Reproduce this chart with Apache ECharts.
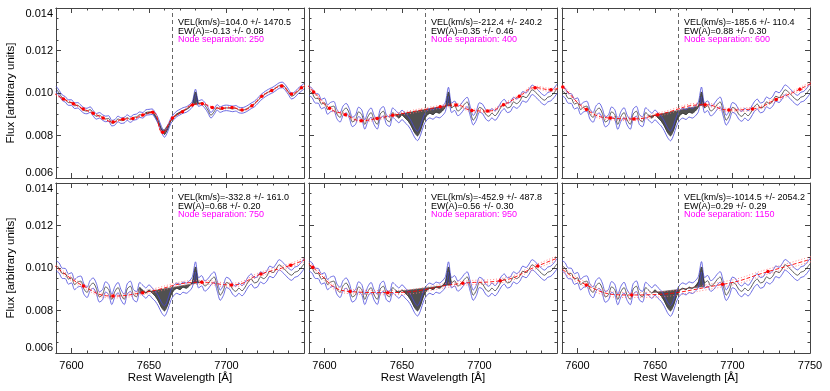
<!DOCTYPE html>
<html>
<head>
<meta charset="utf-8">
<script src="https://cdn.jsdelivr.net/npm/echarts@6/dist/echarts.min.js"></script>
<style>
  html, body { margin: 0; padding: 0; background: #fff; }
  #chart { width: 830px; height: 391px; }
</style>
</head>
<body>
<div id="chart"></div>
<script>
  // wavelength grid of the spectrum (Angstrom)
  var wave = [
    7590, 7592, 7594, 7596, 7598, 7600, 7602, 7604, 7606, 7608,
    7610, 7612, 7614, 7616, 7618, 7620, 7622, 7624, 7626, 7628,
    7630, 7632, 7634, 7636, 7638, 7640, 7642, 7644, 7646, 7648,
    7650, 7652, 7654, 7656, 7658, 7660, 7662, 7664, 7666, 7668,
    7670, 7672, 7674, 7676, 7678, 7680, 7682, 7684, 7686, 7688,
    7690, 7692, 7694, 7696, 7698, 7700, 7702, 7704, 7706, 7708,
    7710, 7712, 7714, 7716, 7718, 7720, 7722, 7724, 7726, 7728,
    7730, 7732, 7734, 7736, 7738, 7740, 7742, 7744, 7746, 7748,
    7750
  ];

  // spectrum as drawn in the first panel (node separation 250)
  var fluxP1 = [
    0.01020, 0.01000, 0.00978, 0.00970, 0.00955, 0.00955, 0.00940, 0.00942, 0.00930, 0.00918,
    0.00915, 0.00922, 0.00905, 0.00890, 0.00895, 0.00885, 0.00878, 0.00880, 0.00858, 0.00862,
    0.00878, 0.00870, 0.00872, 0.00884, 0.00875, 0.00885, 0.00888, 0.00898, 0.00895, 0.00908,
    0.00910, 0.00912, 0.00895, 0.00868, 0.00830, 0.00805, 0.00830, 0.00868, 0.00888, 0.00902,
    0.00910, 0.00918, 0.00922, 0.00932, 0.00948, 0.01005, 0.00950, 0.00955, 0.00942, 0.00920,
    0.00895, 0.00912, 0.00932, 0.00922, 0.00928, 0.00930, 0.00928, 0.00925, 0.00928, 0.00920,
    0.00918, 0.00922, 0.00930, 0.00940, 0.00948, 0.00962, 0.00978, 0.00990, 0.01000, 0.01008,
    0.01015, 0.01025, 0.01035, 0.01038, 0.01025, 0.01005, 0.00985, 0.00992, 0.01008, 0.01020,
    0.01032
  ];

  // spectrum as drawn in the other panels
  var fluxMain = [
    0.01010, 0.01000, 0.00975, 0.00974, 0.00948, 0.00954, 0.00922, 0.00934, 0.00938, 0.00901,
    0.00885, 0.00917, 0.00929, 0.00904, 0.00864, 0.00874, 0.00911, 0.00899, 0.00852, 0.00889,
    0.00908, 0.00873, 0.00852, 0.00902, 0.00914, 0.00874, 0.00865, 0.00908, 0.00895, 0.00882,
    0.00897, 0.00882, 0.00868, 0.00845, 0.00815, 0.00798, 0.00825, 0.00870, 0.00895, 0.00905,
    0.00898, 0.00910, 0.00905, 0.00915, 0.00935, 0.01005, 0.00930, 0.00940, 0.00915, 0.00925,
    0.00945, 0.00958, 0.00915, 0.00872, 0.00895, 0.00932, 0.00925, 0.00900, 0.00890, 0.00905,
    0.00893, 0.00910, 0.00935, 0.00948, 0.00930, 0.00935, 0.00958, 0.00950, 0.00962, 0.00985,
    0.00978, 0.00995, 0.01015, 0.01005, 0.00990, 0.00975, 0.00966, 0.00980, 0.00985, 0.01000,
    0.01020
  ];

  // half width of the blue error envelope, per panel
  var band = [0.00013, 0.00022, 0.00023, 0.00024, 0.00024, 0.00025];

  // continuum spline nodes, per panel
  var nodeWave1 = [7588.4, 7594.8, 7601.2, 7607.6, 7614.0, 7620.4, 7626.8, 7633.2, 7639.6, 7646.0,
                   7652.4, 7658.8, 7665.2, 7671.6, 7678.0, 7684.4, 7690.8, 7697.2, 7703.6, 7710.0,
                   7716.4, 7722.8, 7729.2, 7735.6, 7742.0, 7748.4, 7754.8];
  var nodeFlux1 = [0.01000, 0.00972, 0.00950, 0.00925, 0.00905, 0.00882, 0.00864, 0.00877, 0.00880, 0.00896,
                   0.00910, 0.00815, 0.00882, 0.00912, 0.00944, 0.00950, 0.00932, 0.00928, 0.00932, 0.00920,
                   0.00940, 0.00985, 0.01012, 0.01033, 0.00995, 0.01025, 0.01045];

  var nodeWave2 = [7582.8, 7593.0, 7603.3, 7613.5, 7623.7, 7633.9, 7644.1, 7674.7, 7684.9, 7695.1,
                   7705.3, 7715.5, 7725.7, 7735.9, 7746.1, 7756.3];
  var nodeFlux2 = [0.01080, 0.01005, 0.00928, 0.00898, 0.00870, 0.00880, 0.00895, 0.00935, 0.00944, 0.00918,
                   0.00915, 0.00945, 0.00985, 0.01025, 0.01015, 0.01045];

  var nodeWave3 = [7575.2, 7590.5, 7605.8, 7621.1, 7636.4, 7651.7, 7682.3, 7697.6, 7712.9, 7728.2,
                   7743.5, 7758.8];
  var nodeFlux3 = [0.01120, 0.01028, 0.00922, 0.00882, 0.00878, 0.00898, 0.00945, 0.00920, 0.00925, 0.00970,
                   0.01018, 0.01080];

  var nodeWave4 = [7588.6, 7607.7, 7626.8, 7645.9, 7684.1, 7703.2, 7722.3, 7741.4, 7760.5];
  var nodeFlux4 = [0.01015, 0.00915, 0.00868, 0.00884, 0.00933, 0.00920, 0.00972, 0.01013, 0.01070];

  var nodeWave5 = [7568.2, 7592.4, 7616.6, 7640.8, 7689.2, 7713.4, 7737.6, 7761.8];
  var nodeFlux5 = [0.01180, 0.01003, 0.00889, 0.00884, 0.00928, 0.00940, 0.01010, 0.01080];

  var nodeWave6 = [7576.4, 7605.7, 7635.0, 7693.6, 7722.9, 7752.2];
  var nodeFlux6 = [0.01090, 0.00920, 0.00873, 0.00923, 0.00983, 0.01045];

  // spread of the dotted continuum error curves, per panel
  var contSpread = [0.00004, 0.00007, 0.00008, 0.00009, 0.00010, 0.00012];

  // absorption window shaded between spectrum and continuum
  var fillStart = [7648, 7646, 7646, 7644, 7646, 7648];
  var fillEnd = [7682, 7682, 7682, 7682, 7682, 7682];
  var restLine = 7665;

  // panel annotations
  var vel = [104.0, -212.4, -185.6, -332.8, -452.9, -1014.5];
  var velErr = [1470.5, 240.2, 110.4, 161.0, 487.8, 2054.2];
  var ew = [-0.13, 0.35, 0.88, 0.68, 0.56, 0.29];
  var ewErr = [0.08, 0.46, 0.30, 0.20, 0.30, 0.29];
  var nodeSep = [250, 400, 600, 750, 950, 1150];

  // axis ticks
  var xMajor = [7600, 7650, 7700, 7750];
  var xMinor = [7600, 7610, 7620, 7630, 7640, 7650, 7660, 7670, 7680, 7690,
                7700, 7710, 7720, 7730, 7740, 7750];

  var panelFlux = [fluxP1, fluxMain, fluxMain, fluxMain, fluxMain, fluxMain];
  var panelNodeWave = [nodeWave1, nodeWave2, nodeWave3, nodeWave4, nodeWave5, nodeWave6];
  var panelNodeFlux = [nodeFlux1, nodeFlux2, nodeFlux3, nodeFlux4, nodeFlux5, nodeFlux6];

  var colLeft = [56, 309, 562];
  var rowTop = [8, 183];
  var W = 248, H = 170;
  var FONT = 'Liberation Sans';
  var AX = '#444';

  function contAt(nw, nf, x) {
    for (var i = 0; i < nw.length - 1; i++) {
      if (x >= nw[i] && x <= nw[i + 1]) {
        var t = (x - nw[i]) / (nw[i + 1] - nw[i]);
        return nf[i] + t * (nf[i + 1] - nf[i]);
      }
    }
    return nf[nf.length - 1];
  }

  function pairs(xs, ys, off) {
    var out = [];
    for (var i = 0; i < xs.length; i++) out.push([xs[i], ys[i] + (off || 0)]);
    return out;
  }

  function xAx(k, pos, ticks, len, labels, withName) {
    return {
      gridIndex: k, type: 'value', position: pos, min: 7590, max: 7750,
      axisLine: {show: true, onZero: false, lineStyle: {color: AX, width: 1}},
      axisTick: {show: true, inside: true, length: len, customValues: ticks, lineStyle: {color: AX}},
      axisLabel: labels ? {
        show: true, customValues: labels, margin: 7, color: '#000',
        fontSize: 11, fontFamily: FONT,
        formatter: function (v) { return String(v); }
      } : {show: false},
      splitLine: {show: false},
      name: withName ? 'Rest Wavelength [Å]' : '',
      nameLocation: 'middle', nameGap: 17,
      nameTextStyle: {fontSize: 11.5, fontFamily: FONT, color: '#000'}
    };
  }

  function yAx(k, pos, labels) {
    return {
      gridIndex: k, type: 'value', position: pos, min: 0.006, max: 0.014, interval: 0.002,
      axisLine: {show: true, onZero: false, lineStyle: {color: AX, width: 1}},
      axisTick: {show: true, inside: true, length: 5, lineStyle: {color: AX}},
      minorTick: {show: true, splitNumber: 4, length: 2.5, lineStyle: {color: AX}},
      axisLabel: labels ? {
        show: true, margin: 3, color: '#000', fontSize: 11, fontFamily: FONT,
        verticalAlignMinLabel: 'bottom', verticalAlignMaxLabel: 'top',
        formatter: function (v) { return v.toFixed(3); }
      } : {show: false},
      splitLine: {show: false},
      minorSplitLine: {show: false},
      name: labels ? 'Flux [arbitrary units]' : '',
      nameLocation: 'middle', nameGap: 39, nameRotate: 90,
      nameTextStyle: {fontSize: 11.5, fontFamily: FONT, color: '#000'}
    };
  }

  var grids = [], xAxes = [], yAxes = [], series = [], graphic = [];

  for (var k = 0; k < 6; k++) {
    (function (k) {
      var r = Math.floor(k / 3), c = k % 3;
      var flux = panelFlux[k], nw = panelNodeWave[k], nf = panelNodeFlux[k];
      grids.push({left: colLeft[c], top: rowTop[r], width: W, height: H});

      var xi = xAxes.length;
      var bottomLabels = r === 1 ? (c === 2 ? xMajor : xMajor.slice(0, 3)) : null;
      xAxes.push(xAx(k, 'bottom', xMajor, 5, bottomLabels, r === 1));
      xAxes.push(xAx(k, 'bottom', xMinor, 2.5, null, false));
      xAxes.push(xAx(k, 'top', xMajor, 5, null, false));
      xAxes.push(xAx(k, 'top', xMinor, 2.5, null, false));

      var yi = yAxes.length;
      yAxes.push(yAx(k, 'left', c === 0));
      yAxes.push(yAx(k, 'right', false));

      // shaded absorption between spectrum and continuum
      series.push({
        type: 'custom', xAxisIndex: xi, yAxisIndex: yi, silent: true, clip: true, z: 1,
        data: [[restLine, 0.009]],
        renderItem: function (params, api) {
          var top = [], back = [];
          for (var i = 0; i < wave.length; i++) {
            if (wave[i] >= fillStart[k] && wave[i] <= fillEnd[k]) {
              top.push(api.coord([wave[i], flux[i]]));
              back.push(api.coord([wave[i], contAt(nw, nf, wave[i])]));
            }
          }
          return {
            type: 'polygon',
            shape: {points: top.concat(back.reverse())},
            style: {fill: '#505050', stroke: '#505050', lineWidth: 0.6}
          };
        }
      });

      var lineBase = {
        type: 'line', xAxisIndex: xi, yAxisIndex: yi, showSymbol: false,
        smooth: 0.3, clip: true, silent: true
      };

      series.push(Object.assign({}, lineBase, {
        z: 2, data: pairs(wave, flux, band[k]),
        lineStyle: {color: '#4646dc', width: 0.8}
      }));
      series.push(Object.assign({}, lineBase, {
        z: 2, data: pairs(wave, flux, -band[k]),
        lineStyle: {color: '#4646dc', width: 0.8}
      }));
      series.push(Object.assign({}, lineBase, {
        z: 3, data: pairs(wave, flux, 0),
        lineStyle: {color: '#333', width: 0.8},
        markLine: {
          silent: true, symbol: ['none', 'none'], label: {show: false},
          lineStyle: {color: '#666', type: [4, 3], width: 1},
          data: [{xAxis: restLine}]
        }
      }));

      // continuum with its dotted error curves
      series.push(Object.assign({}, lineBase, {
        z: 4, smooth: 0.5, data: pairs(nw, nf, contSpread[k]),
        lineStyle: {color: '#ff7070', width: 0.8, type: [1, 2]}
      }));
      series.push(Object.assign({}, lineBase, {
        z: 4, smooth: 0.5, data: pairs(nw, nf, -contSpread[k]),
        lineStyle: {color: '#ff7070', width: 0.8, type: [1, 2]}
      }));
      series.push(Object.assign({}, lineBase, {
        z: 5, smooth: 0.5, data: pairs(nw, nf, 0), showSymbol: true,
        symbol: 'circle', symbolSize: 3.5,
        itemStyle: {color: '#ff0000'},
        lineStyle: {color: '#ff0000', width: 0.9, type: [4, 2]}
      }));

      // annotations
      var tx = colLeft[c] + 122, ty = rowTop[r];
      var lines = [
        ['VEL(km/s)=' + vel[k].toFixed(1) + ' +/- ' + velErr[k].toFixed(1), '#000', 15],
        ['EW(A)=' + ew[k].toFixed(2) + ' +/- ' + ewErr[k].toFixed(2), '#000', 23.5],
        ['Node separation: ' + nodeSep[k], '#ff00ff', 32]
      ];
      lines.forEach(function (l) {
        graphic.push({
          type: 'text', x: tx, y: ty + l[2], silent: true, z: 10,
          style: {text: l[0], fill: l[1], fontSize: 9, fontFamily: FONT, verticalAlign: 'middle'}
        });
      });
    })(k);
  }

  var chart = echarts.init(document.getElementById('chart'), null, {renderer: 'canvas'});
  chart.setOption({
    animation: false,
    backgroundColor: '#fff',
    grid: grids,
    xAxis: xAxes,
    yAxis: yAxes,
    series: series,
    graphic: graphic
  });
</script>
</body>
</html>
